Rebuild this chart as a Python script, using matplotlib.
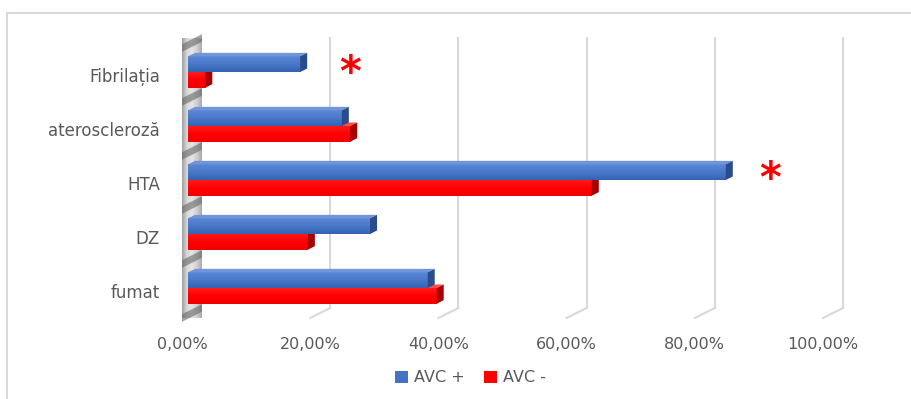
import numpy as np
import matplotlib
matplotlib.use("Agg")
import matplotlib.pyplot as plt
from matplotlib.patches import Polygon, Patch
from matplotlib.lines import Line2D
from matplotlib.colors import LinearSegmentedColormap

categories = ["fumat", "DZ", "HTA", "ateroscleroză", "Fibrilația"]
avc_pos = [37.4, 28.4, 83.9, 24.0, 17.5]
avc_neg = [38.8, 18.7, 63.0, 25.3, 2.7]
xticks = [0, 20, 40, 60, 80, 100]
xtick_labels = ["0,00%", "20,00%", "40,00%", "60,00%", "80,00%", "100,00%"]
series_names = ["AVC +", "AVC -"]
# significance marks: (x, y) in data units
stars = [(26.2, 4.02), (91.7, 2.06)]

W, H, DPI = 912, 399, 100
fig = plt.figure(figsize=(W / DPI, H / DPI), dpi=DPI)
fig.patch.set_facecolor("white")

# front plane of the pseudo-3D box, in pixels
left_px, bottom_px, width_px, height_px = 182, 81, 641, 270
ax = fig.add_axes([left_px / W, bottom_px / H, width_px / W, height_px / H])
ax.set_xlim(0, 100)
ax.set_ylim(-0.5, len(categories) - 0.5)
for s in ax.spines.values():
    s.set_visible(False)

kx = 100 / width_px
ky = len(categories) / height_px

def px(dx, dy):
    return dx * kx, dy * ky

BACK = px(20, 10)      # back wall offset
BAR0 = px(6, 3)        # front face of bars
BAR1 = px(13, 6.5)     # back face of bars
ymin, ymax = -0.5, len(categories) - 0.5
grid_c = "#d9d9d9"

# gridlines on the back wall with floor returns
for v in xticks[1:]:
    ax.plot([v + BACK[0]] * 2, [ymin + BACK[1], ymax + BACK[1]], color=grid_c, lw=1.5, zorder=1, clip_on=False)
    ax.plot([v, v + BACK[0]], [ymin, ymin + BACK[1]], color=grid_c, lw=1.5, zorder=1, clip_on=False)

# side wall at 0 %
wall = Polygon([(0, ymin), (0, ymax), (BACK[0], ymax + BACK[1]), (BACK[0], ymin + BACK[1])],
               closed=True, facecolor="none", edgecolor="none", zorder=2, clip_on=False)
ax.add_patch(wall)
wall_cmap = LinearSegmentedColormap.from_list("wall", ["#a0a0a0", "#d8d8d8", "#e6e6e6", "#d0d0d0", "#aaaaaa"])
grad = np.linspace(0, 1, 64)[None, :]
img = ax.imshow(grad, cmap=wall_cmap, extent=(0, BACK[0], ymin, ymax + BACK[1]),
                aspect="auto", zorder=2, clip_on=False)
img.set_clip_path(wall)
for i in range(len(categories) + 1):
    b = i - 0.5
    band = Polygon([(0, b - 0.07), (0, b + 0.07), (BACK[0], b + 0.07 + BACK[1]), (BACK[0], b - 0.07 + BACK[1])],
                   closed=True, facecolor="#666666", alpha=0.6, edgecolor="none", zorder=2.1, clip_on=False)
    band.set_clip_path(wall)
    ax.add_patch(band)

h = 0.29
blue_cmap = LinearSegmentedColormap.from_list("blue", ["#3563b3", "#4a78c8", "#5b87d6"])
red_cmap = LinearSegmentedColormap.from_list("red", ["#f00000", "#ff0000", "#ff1a1a"])
vgrad = np.linspace(0, 1, 32)[:, None]

def draw_bar(v, y0, y1, cmap, top_c, side_c, z):
    x0, dy0 = BAR0
    x1, dy1 = BAR1
    ax.imshow(vgrad, cmap=cmap, origin="lower", extent=(x0, v + x0, y0 + dy0, y1 + dy0),
              aspect="auto", zorder=z, clip_on=False)
    ax.add_patch(Polygon([(x0, y1 + dy0), (v + x0, y1 + dy0), (v + x1, y1 + dy1), (x1, y1 + dy1)],
                         closed=True, facecolor=top_c, edgecolor="none", zorder=z, clip_on=False))
    ax.add_patch(Polygon([(v + x0, y0 + dy0), (v + x1, y0 + dy1), (v + x1, y1 + dy1), (v + x0, y1 + dy0)],
                         closed=True, facecolor=side_c, edgecolor="none", zorder=z, clip_on=False))

for i, (vp, vn) in enumerate(zip(avc_pos, avc_neg)):
    draw_bar(vn, i - h, i, red_cmap, "#ff4a4a", "#a80000", 3)
    draw_bar(vp, i, i + h, blue_cmap, "#7096d8", "#2b4c8c", 4)

for sx, sy in stars:
    ax.text(sx, sy, "*", color="#ff0000", fontsize=30, fontweight="bold",
            ha="center", va="center", zorder=5)

ax.set_xticks(xticks)
ax.set_xticklabels(xtick_labels)
ax.set_yticks(range(len(categories)))
ax.set_yticklabels(categories)
ax.tick_params(axis="x", length=0, pad=14, labelsize=11.5, labelcolor="#595959")
ax.tick_params(axis="y", length=0, pad=16, labelsize=12, labelcolor="#595959")

handles = [Patch(facecolor="#4472c4", edgecolor="none"), Patch(facecolor="#ff0000", edgecolor="none")]
fig.legend(handles, series_names, loc="center", bbox_to_anchor=(0.516, 0.053), ncol=2, frameon=False,
           handlelength=0.8, handleheight=0.8, handletextpad=0.4, columnspacing=1.2,
           prop={"size": 11.5}, labelcolor="#595959")

# chart area border: only the top and left edges fall inside the image
bx, by = 7 / W, 1 - 13 / H
fig.add_artist(Line2D([bx, 1.0], [by, by], transform=fig.transFigure, color="#d9d9d9", lw=1.5))
fig.add_artist(Line2D([bx, bx], [0.0, by], transform=fig.transFigure, color="#d9d9d9", lw=1.5))

fig.savefig("out.png", dpi=DPI)
